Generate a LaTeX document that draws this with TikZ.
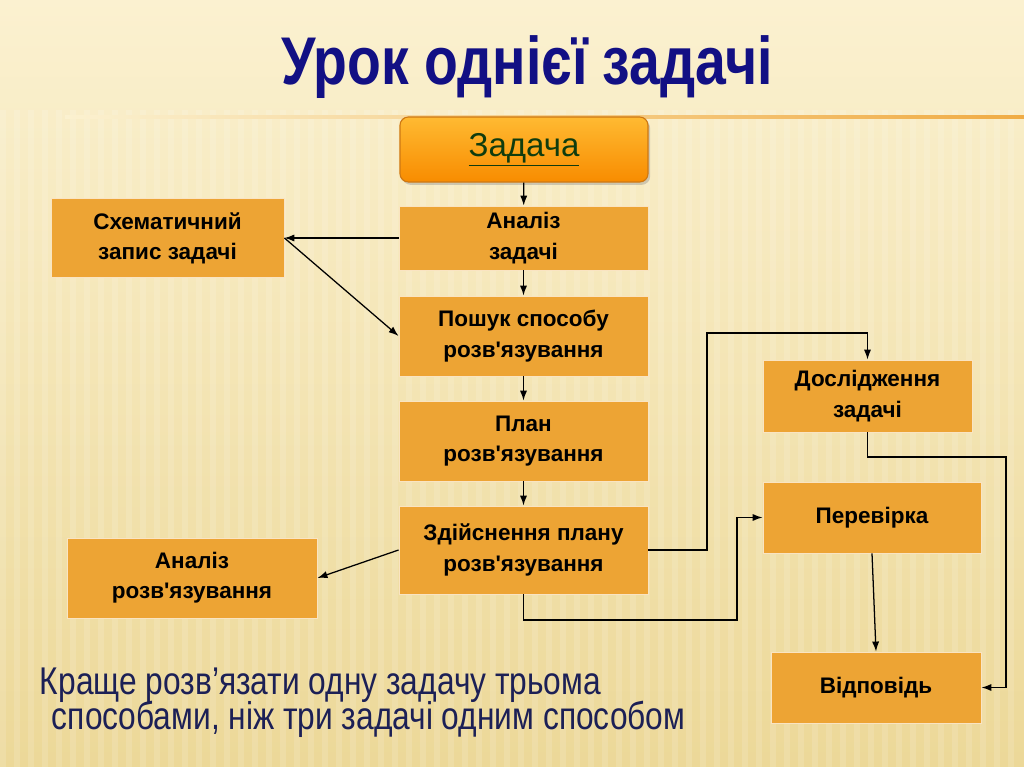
\documentclass[tikz,border=0pt]{standalone}
\usepackage{fontspec}
\setmainfont{Liberation Sans}
\newfontfamily\narrowfont[FakeStretch=0.82]{Liberation Sans}
\usetikzlibrary{arrows.meta,positioning,shadows}
\definecolor{paper}{RGB}{251,241,208}
\definecolor{sand}{RGB}{236,216,152}
\definecolor{tangerine}{RGB}{237,164,52}
\definecolor{glow}{RGB}{255,186,50}
\definecolor{deeporange}{RGB}{248,140,0}
\definecolor{rust}{RGB}{205,120,20}
\definecolor{titleblue}{RGB}{18,16,132}
\definecolor{inkblue}{RGB}{28,32,86}
\definecolor{moss}{RGB}{16,60,14}
\definecolor{rule}{RGB}{240,172,70}
\newcommand{\apos}{\textquotesingle}
\tikzset{
  >={Latex[length=2.5mm,width=1.8mm]},
  stage/.style={fill=tangerine,draw=white!70!tangerine,line width=0.6pt,
    align=center,font=\fontsize{16}{21.5}\selectfont\bfseries,text=black},
  lead/.style={rounded corners=6pt,draw=rust,line width=0.8pt,
    top color=glow,bottom color=deeporange,
    font=\fontsize{23.5}{26}\selectfont,text=moss,
    drop shadow={opacity=0.35,shadow xshift=1.5pt,shadow yshift=-2pt}},
  flow/.style={->,line width=0.9pt,draw=black},
  saying/.style={font=\narrowfont\fontsize{27.5}{32}\selectfont,text=inkblue,anchor=west},
}

\begin{document}
\begin{tikzpicture}[x=0.025cm,y=-0.025cm]
  % background
  \useasboundingbox (0,0) rectangle (1024,767);
  \fill[top color=paper,bottom color=sand] (0,0) rectangle (1024,767);
  \foreach \i in {0,14,...,1020}
    \fill[white,opacity=0.13] (\i,110) rectangle ++(6,657);
  \fill[left color=paper,right color=rule] (65,115.5) rectangle (1024,118.5);

  % title
  \node[font=\narrowfont\bfseries\fontsize{48}{52}\selectfont,text=titleblue] (title) at (527,67) {Урок однієї задачі};

  % main chain
  \node[lead,minimum width=6.2cm,minimum height=1.625cm] (task) at (524,149.5) {\underline{Задача}};
  \node[stage,minimum width=6.225cm,minimum height=1.6cm] (analysis) at (523.5,238) {Аналіз\\задачі};
  \node[stage,minimum width=6.225cm,minimum height=2cm] (search) at (523.5,336) {Пошук способу\\розв\apos язування};
  \node[stage,minimum width=6.225cm,minimum height=2cm] (plan) at (523.5,441) {План\\розв\apos язування};
  \node[stage,minimum width=6.225cm,minimum height=2.2cm] (exec) at (523.5,550) {Здійснення плану\\розв\apos язування};

  % side boxes
  \node[stage,minimum width=5.825cm,minimum height=1.975cm] (scheme) at (167.5,238) {Схематичний\\запис задачі};
  \node[stage,minimum width=6.25cm,minimum height=2cm] (review) at (192,578) {Аналіз\\розв\apos язування};
  \node[stage,minimum width=5.225cm,minimum height=1.8cm] (research) at (867.5,396) {Дослідження\\задачі};
  \node[stage,minimum width=5.45cm,minimum height=1.775cm] (check) at (872,517.5) {Перевірка};
  \node[stage,minimum width=5.25cm,minimum height=1.775cm] (answer) at (876,687.5) {Відповідь};

  % bend points
  \coordinate (bendA) at (707,333);
  \coordinate (bendB) at (737,620);
  \coordinate (bendC) at (1006,457);

  % connectors
  \draw[flow] (task) -- (analysis);
  \draw[flow] (analysis) -- (search);
  \draw[flow] (search) -- (plan);
  \draw[flow] (plan) -- (exec);
  \draw[flow] (analysis.west) -- (scheme.east);
  \draw[flow] (scheme.east) -- (search.west);
  \draw[flow] (exec.west) -- (review.east);
  \draw[flow] (exec.east) -- (exec.east -| bendA) -- (bendA) -| (research.north);
  \draw[flow] (exec.south) |- (bendB) |- (check.west);
  \draw[flow] (research.south) |- (bendC) |- (answer.east);
  \draw[flow] (check.south) -- (answer.north);

  % saying
  \node[saying] (say1) at (35,685) {Краще розв’язати одну задачу трьома};
  \node[saying] (say2) at (47,719) {способами, ніж три задачі одним способом};
\end{tikzpicture}
\end{document}
